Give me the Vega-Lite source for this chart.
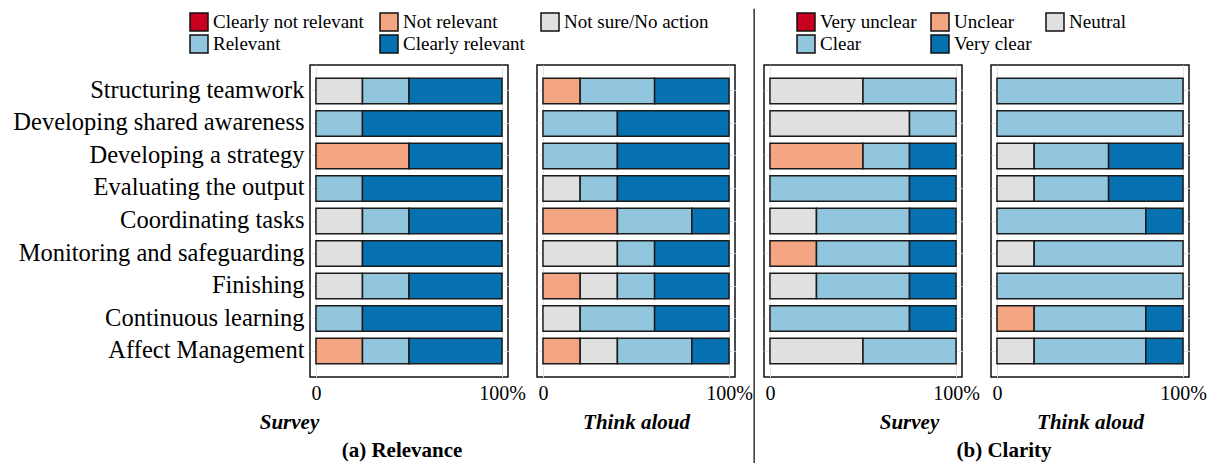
{
  "$schema": "https://vega.github.io/schema/vega-lite/v6.json",
  "padding": {"left": 12, "top": 7, "right": 0, "bottom": 0},
  "background": "white",
  "datasets": {
    "relSurvey": [
      {"activity": "Structuring teamwork", "response": "Not sure/No action", "level": 3, "pct": 25},
      {"activity": "Structuring teamwork", "response": "Relevant", "level": 4, "pct": 25},
      {"activity": "Structuring teamwork", "response": "Clearly relevant", "level": 5, "pct": 50},
      {"activity": "Developing shared awareness", "response": "Relevant", "level": 4, "pct": 25},
      {"activity": "Developing shared awareness", "response": "Clearly relevant", "level": 5, "pct": 75},
      {"activity": "Developing a strategy", "response": "Not relevant", "level": 2, "pct": 50},
      {"activity": "Developing a strategy", "response": "Clearly relevant", "level": 5, "pct": 50},
      {"activity": "Evaluating the output", "response": "Relevant", "level": 4, "pct": 25},
      {"activity": "Evaluating the output", "response": "Clearly relevant", "level": 5, "pct": 75},
      {"activity": "Coordinating tasks", "response": "Not sure/No action", "level": 3, "pct": 25},
      {"activity": "Coordinating tasks", "response": "Relevant", "level": 4, "pct": 25},
      {"activity": "Coordinating tasks", "response": "Clearly relevant", "level": 5, "pct": 50},
      {"activity": "Monitoring and safeguarding", "response": "Not sure/No action", "level": 3, "pct": 25},
      {"activity": "Monitoring and safeguarding", "response": "Clearly relevant", "level": 5, "pct": 75},
      {"activity": "Finishing", "response": "Not sure/No action", "level": 3, "pct": 25},
      {"activity": "Finishing", "response": "Relevant", "level": 4, "pct": 25},
      {"activity": "Finishing", "response": "Clearly relevant", "level": 5, "pct": 50},
      {"activity": "Continuous learning", "response": "Relevant", "level": 4, "pct": 25},
      {"activity": "Continuous learning", "response": "Clearly relevant", "level": 5, "pct": 75},
      {"activity": "Affect Management", "response": "Not relevant", "level": 2, "pct": 25},
      {"activity": "Affect Management", "response": "Relevant", "level": 4, "pct": 25},
      {"activity": "Affect Management", "response": "Clearly relevant", "level": 5, "pct": 50}
    ],
    "relThink": [
      {"activity": "Structuring teamwork", "response": "Not relevant", "level": 2, "pct": 20},
      {"activity": "Structuring teamwork", "response": "Relevant", "level": 4, "pct": 40},
      {"activity": "Structuring teamwork", "response": "Clearly relevant", "level": 5, "pct": 40},
      {"activity": "Developing shared awareness", "response": "Relevant", "level": 4, "pct": 40},
      {"activity": "Developing shared awareness", "response": "Clearly relevant", "level": 5, "pct": 60},
      {"activity": "Developing a strategy", "response": "Relevant", "level": 4, "pct": 40},
      {"activity": "Developing a strategy", "response": "Clearly relevant", "level": 5, "pct": 60},
      {"activity": "Evaluating the output", "response": "Not sure/No action", "level": 3, "pct": 20},
      {"activity": "Evaluating the output", "response": "Relevant", "level": 4, "pct": 20},
      {"activity": "Evaluating the output", "response": "Clearly relevant", "level": 5, "pct": 60},
      {"activity": "Coordinating tasks", "response": "Not relevant", "level": 2, "pct": 40},
      {"activity": "Coordinating tasks", "response": "Relevant", "level": 4, "pct": 40},
      {"activity": "Coordinating tasks", "response": "Clearly relevant", "level": 5, "pct": 20},
      {"activity": "Monitoring and safeguarding", "response": "Not sure/No action", "level": 3, "pct": 40},
      {"activity": "Monitoring and safeguarding", "response": "Relevant", "level": 4, "pct": 20},
      {"activity": "Monitoring and safeguarding", "response": "Clearly relevant", "level": 5, "pct": 40},
      {"activity": "Finishing", "response": "Not relevant", "level": 2, "pct": 20},
      {"activity": "Finishing", "response": "Not sure/No action", "level": 3, "pct": 20},
      {"activity": "Finishing", "response": "Relevant", "level": 4, "pct": 20},
      {"activity": "Finishing", "response": "Clearly relevant", "level": 5, "pct": 40},
      {"activity": "Continuous learning", "response": "Not sure/No action", "level": 3, "pct": 20},
      {"activity": "Continuous learning", "response": "Relevant", "level": 4, "pct": 40},
      {"activity": "Continuous learning", "response": "Clearly relevant", "level": 5, "pct": 40},
      {"activity": "Affect Management", "response": "Not relevant", "level": 2, "pct": 20},
      {"activity": "Affect Management", "response": "Not sure/No action", "level": 3, "pct": 20},
      {"activity": "Affect Management", "response": "Relevant", "level": 4, "pct": 40},
      {"activity": "Affect Management", "response": "Clearly relevant", "level": 5, "pct": 20}
    ],
    "claSurvey": [
      {"activity": "Structuring teamwork", "response": "Neutral", "level": 3, "pct": 50},
      {"activity": "Structuring teamwork", "response": "Clear", "level": 4, "pct": 50},
      {"activity": "Developing shared awareness", "response": "Neutral", "level": 3, "pct": 75},
      {"activity": "Developing shared awareness", "response": "Clear", "level": 4, "pct": 25},
      {"activity": "Developing a strategy", "response": "Unclear", "level": 2, "pct": 50},
      {"activity": "Developing a strategy", "response": "Clear", "level": 4, "pct": 25},
      {"activity": "Developing a strategy", "response": "Very clear", "level": 5, "pct": 25},
      {"activity": "Evaluating the output", "response": "Clear", "level": 4, "pct": 75},
      {"activity": "Evaluating the output", "response": "Very clear", "level": 5, "pct": 25},
      {"activity": "Coordinating tasks", "response": "Neutral", "level": 3, "pct": 25},
      {"activity": "Coordinating tasks", "response": "Clear", "level": 4, "pct": 50},
      {"activity": "Coordinating tasks", "response": "Very clear", "level": 5, "pct": 25},
      {"activity": "Monitoring and safeguarding", "response": "Unclear", "level": 2, "pct": 25},
      {"activity": "Monitoring and safeguarding", "response": "Clear", "level": 4, "pct": 50},
      {"activity": "Monitoring and safeguarding", "response": "Very clear", "level": 5, "pct": 25},
      {"activity": "Finishing", "response": "Neutral", "level": 3, "pct": 25},
      {"activity": "Finishing", "response": "Clear", "level": 4, "pct": 50},
      {"activity": "Finishing", "response": "Very clear", "level": 5, "pct": 25},
      {"activity": "Continuous learning", "response": "Clear", "level": 4, "pct": 75},
      {"activity": "Continuous learning", "response": "Very clear", "level": 5, "pct": 25},
      {"activity": "Affect Management", "response": "Neutral", "level": 3, "pct": 50},
      {"activity": "Affect Management", "response": "Clear", "level": 4, "pct": 50}
    ],
    "claThink": [
      {"activity": "Structuring teamwork", "response": "Clear", "level": 4, "pct": 100},
      {"activity": "Developing shared awareness", "response": "Clear", "level": 4, "pct": 100},
      {"activity": "Developing a strategy", "response": "Neutral", "level": 3, "pct": 20},
      {"activity": "Developing a strategy", "response": "Clear", "level": 4, "pct": 40},
      {"activity": "Developing a strategy", "response": "Very clear", "level": 5, "pct": 40},
      {"activity": "Evaluating the output", "response": "Neutral", "level": 3, "pct": 20},
      {"activity": "Evaluating the output", "response": "Clear", "level": 4, "pct": 40},
      {"activity": "Evaluating the output", "response": "Very clear", "level": 5, "pct": 40},
      {"activity": "Coordinating tasks", "response": "Clear", "level": 4, "pct": 80},
      {"activity": "Coordinating tasks", "response": "Very clear", "level": 5, "pct": 20},
      {"activity": "Monitoring and safeguarding", "response": "Neutral", "level": 3, "pct": 20},
      {"activity": "Monitoring and safeguarding", "response": "Clear", "level": 4, "pct": 80},
      {"activity": "Finishing", "response": "Clear", "level": 4, "pct": 100},
      {"activity": "Continuous learning", "response": "Unclear", "level": 2, "pct": 20},
      {"activity": "Continuous learning", "response": "Clear", "level": 4, "pct": 60},
      {"activity": "Continuous learning", "response": "Very clear", "level": 5, "pct": 20},
      {"activity": "Affect Management", "response": "Neutral", "level": 3, "pct": 20},
      {"activity": "Affect Management", "response": "Clear", "level": 4, "pct": 60},
      {"activity": "Affect Management", "response": "Very clear", "level": 5, "pct": 20}
    ]
  },
  "hconcat": [
    {
      "width": 198, "height": 312,
      "data": {"name": "relSurvey"},
      "mark": {"type": "bar", "stroke": "#1a1a1a", "strokeWidth": 1.5},
      "encoding": {
        "y": {"field": "activity", "type": "nominal",
          "sort": ["Structuring teamwork", "Developing shared awareness", "Developing a strategy", "Evaluating the output", "Coordinating tasks", "Monitoring and safeguarding", "Finishing", "Continuous learning", "Affect Management"],
          "scale": {"paddingInner": 0.215, "paddingOuter": 0.407},
          "axis": {"title": null, "labelFontSize": 24.5, "labelPadding": 6, "grid": true, "labelLimit": 0}},
        "x": {"field": "pct", "type": "quantitative", "stack": "zero",
          "scale": {"domain": [-3.2, 103.2], "nice": false, "zero": false},
          "axis": {"values": [0, 100], "labelExpr": "datum.value == 100 ? '100%' : '0'", "title": "Survey", "titleX": -21}},
        "order": {"field": "level", "type": "quantitative"},
        "color": {"field": "response", "type": "nominal",
          "scale": {"domain": ["Clearly not relevant", "Not relevant", "Not sure/No action", "Relevant", "Clearly relevant"], "range": ["#ca0020", "#f4a582", "#e0e0e0", "#92c5de", "#0571b0"]},
          "legend": {"legendX": -121, "legendY": -53, "columnPadding": 13}}
      },
      "title": {"text": "(a) Relevance", "orient": "bottom", "dx": -7}
    },
    {
      "width": 198, "height": 312,
      "data": {"name": "relThink"},
      "mark": {"type": "bar", "stroke": "#1a1a1a", "strokeWidth": 1.5},
      "encoding": {
        "y": {"field": "activity", "type": "nominal",
          "sort": ["Structuring teamwork", "Developing shared awareness", "Developing a strategy", "Evaluating the output", "Coordinating tasks", "Monitoring and safeguarding", "Finishing", "Continuous learning", "Affect Management"],
          "scale": {"paddingInner": 0.215, "paddingOuter": 0.407},
          "axis": {"title": null, "labels": false, "grid": true}},
        "x": {"field": "pct", "type": "quantitative", "stack": "zero",
          "scale": {"domain": [-3.2, 103.2], "nice": false, "zero": false},
          "axis": {"values": [0, 100], "labelExpr": "datum.value == 100 ? '100%' : '0'", "title": "Think aloud"}},
        "order": {"field": "level", "type": "quantitative"},
        "color": {"field": "response", "type": "nominal",
          "scale": {"domain": ["Clearly not relevant", "Not relevant", "Not sure/No action", "Relevant", "Clearly relevant"], "range": ["#ca0020", "#f4a582", "#e0e0e0", "#92c5de", "#0571b0"]},
          "legend": null}
      }
    },
    {
      "width": 198, "height": 312,
      "layer": [
        {
          "data": {"name": "claSurvey"},
          "mark": {"type": "bar", "stroke": "#1a1a1a", "strokeWidth": 1.5},
          "encoding": {
            "y": {"field": "activity", "type": "nominal",
              "sort": ["Structuring teamwork", "Developing shared awareness", "Developing a strategy", "Evaluating the output", "Coordinating tasks", "Monitoring and safeguarding", "Finishing", "Continuous learning", "Affect Management"],
              "scale": {"paddingInner": 0.215, "paddingOuter": 0.407},
              "axis": {"title": null, "labels": false, "grid": true}},
            "x": {"field": "pct", "type": "quantitative", "stack": "zero",
              "scale": {"domain": [-3.2, 103.2], "nice": false, "zero": false},
              "axis": {"values": [0, 100], "labelExpr": "datum.value == 100 ? '100%' : '0'", "title": "Survey", "titleX": 145}},
            "order": {"field": "level", "type": "quantitative"},
            "color": {"field": "response", "type": "nominal",
              "scale": {"domain": ["Very unclear", "Unclear", "Neutral", "Clear", "Very clear"], "range": ["#ca0020", "#f4a582", "#e0e0e0", "#92c5de", "#0571b0"]},
              "legend": {"legendX": 32, "legendY": -53, "columnPadding": 11}}
          }
        },
        {
          "data": {"values": [{}]},
          "mark": {"type": "rule", "color": "#111", "strokeWidth": 1.3},
          "encoding": {
            "x": {"datum": -8.5, "type": "quantitative"},
            "y": {"datum": -0.282, "type": "quantitative", "scale": {"domain": [0, 1], "nice": false, "zero": false}, "axis": null},
            "y2": {"datum": 1.18}
          }
        }
      ],
      "resolve": {"scale": {"y": "independent"}, "axis": {"y": "independent"}}
    },
    {
      "width": 198, "height": 312,
      "data": {"name": "claThink"},
      "mark": {"type": "bar", "stroke": "#1a1a1a", "strokeWidth": 1.5},
      "encoding": {
        "y": {"field": "activity", "type": "nominal",
          "sort": ["Structuring teamwork", "Developing shared awareness", "Developing a strategy", "Evaluating the output", "Coordinating tasks", "Monitoring and safeguarding", "Finishing", "Continuous learning", "Affect Management"],
          "scale": {"paddingInner": 0.215, "paddingOuter": 0.407},
          "axis": {"title": null, "labels": false, "grid": true}},
        "x": {"field": "pct", "type": "quantitative", "stack": "zero",
          "scale": {"domain": [-3.2, 103.2], "nice": false, "zero": false},
          "axis": {"values": [0, 100], "labelExpr": "datum.value == 100 ? '100%' : '0'", "title": "Think aloud"}},
        "order": {"field": "level", "type": "quantitative"},
        "color": {"field": "response", "type": "nominal",
          "scale": {"domain": ["Very unclear", "Unclear", "Neutral", "Clear", "Very clear"], "range": ["#ca0020", "#f4a582", "#e0e0e0", "#92c5de", "#0571b0"]},
          "legend": null}
      },
      "title": {"text": "(b) Clarity", "orient": "bottom", "dx": -86}
    }
  ],
  "spacing": 29,
  "bounds": "flush",
  "resolve": {"scale": {"color": "independent"}, "legend": {"color": "independent"}},
  "config": {
    "font": "Liberation Serif",
    "view": {"stroke": "#111", "strokeWidth": 1.5},
    "axis": {
      "labelFont": "Liberation Serif", "labelColor": "black", "labelFontSize": 20,
      "domain": false, "ticks": false, "gridColor": "#e3e3e3", "labelFlush": false,
      "labelPadding": 6,
      "titleFont": "Liberation Serif", "titleColor": "black", "titleFontSize": 21,
      "titleFontStyle": "italic", "titleFontWeight": "bold", "titlePadding": 8
    },
    "legend": {
      "orient": "none", "title": null, "columns": 3, "direction": "horizontal", "columnPadding": 15, "rowPadding": -2,
      "symbolType": "square", "symbolSize": 324, "symbolStrokeColor": "#111", "symbolStrokeWidth": 1.5,
      "symbolOpacity": 1, "labelFont": "Liberation Serif", "labelFontSize": 19, "labelColor": "black",
      "labelOffset": 4, "labelLimit": 0, "padding": 0
    },
    "title": {"font": "Liberation Serif", "fontSize": 21, "fontWeight": "bold", "color": "black", "offset": 8}
  }
}
